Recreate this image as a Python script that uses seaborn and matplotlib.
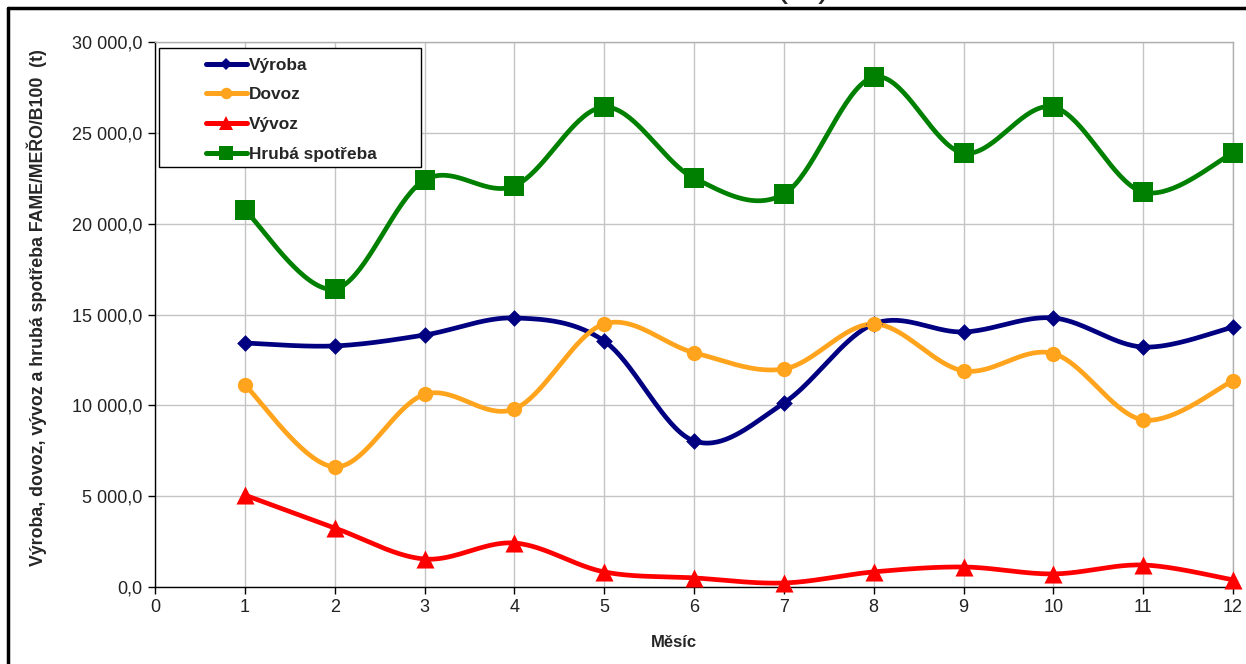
import numpy as np
import pandas as pd
import matplotlib
matplotlib.use("Agg")
import matplotlib.pyplot as plt
from matplotlib.lines import Line2D
from matplotlib.patches import Rectangle
from matplotlib.ticker import FuncFormatter, MultipleLocator
import seaborn as sns

# Monthly balance of FAME/MEŘO/B100 (t)
months = [1, 2, 3, 4, 5, 6, 7, 8, 9, 10, 11, 12]
vyroba = [13430, 13270, 13870, 14810, 13540, 8040, 10130, 14480, 14040, 14810, 13210, 14310]
dovoz = [11120, 6610, 10600, 9800, 14480, 12900, 12000, 14480, 11900, 12850, 9200, 11350]
vyvoz = [5060, 3250, 1540, 2420, 830, 500, 220, 830, 1100, 720, 1210, 390]
hruba_spotreba = [20750, 16400, 22400, 22080, 26420, 22510, 21630, 28070, 23890, 26420, 21740, 23890]

series_names = ["Výroba", "Dovoz", "Vývoz", "Hrubá spotřeba"]
series_values = [vyroba, dovoz, vyvoz, hruba_spotreba]
colors = ["#000080", "#FFA41C", "#FF0000", "#008000"]
markers = ["D", "o", "^", "s"]
marker_sizes = [8.5, 11, 13, 14]


def smooth(x, y, n=40):
    """Catmull-Rom style Bezier smoothing through every point."""
    x = np.asarray(x, float)
    y = np.asarray(y, float)
    px = np.concatenate([[x[0]], x, [x[-1]]])
    py = np.concatenate([[y[0]], y, [y[-1]]])
    xs, ys = [], []
    t = np.linspace(0, 1, n)
    for i in range(1, len(px) - 2):
        p0 = np.array([px[i], py[i]])
        p3 = np.array([px[i + 1], py[i + 1]])
        c1 = p0 + (np.array([px[i + 1], py[i + 1]]) - np.array([px[i - 1], py[i - 1]])) / 6
        c2 = p3 - (np.array([px[i + 2], py[i + 2]]) - np.array([px[i], py[i]])) / 6
        b = ((1 - t) ** 3)[:, None] * p0 + (3 * (1 - t) ** 2 * t)[:, None] * c1 \
            + (3 * (1 - t) * t ** 2)[:, None] * c2 + (t ** 3)[:, None] * p3
        xs.append(b[:, 0] if i == 1 else b[1:, 0])
        ys.append(b[:, 1] if i == 1 else b[1:, 1])
    return np.concatenate(xs), np.concatenate(ys)


sns.set_theme(style="white")
plt.rcParams["font.family"] = ["Liberation Sans", "DejaVu Sans"]

fig = plt.figure(figsize=(12.46, 6.64), dpi=100)
ax = fig.add_axes([0.1244, 0.1160, 0.8652, 0.8207])

for name, vals, col, mk, ms in zip(series_names, series_values, colors, markers, marker_sizes):
    sx, sy = smooth(months, vals)
    curve = pd.DataFrame({"x": sx, "y": sy})
    sns.lineplot(data=curve, x="x", y="y", ax=ax, color=col, linewidth=3.4,
                 sort=False, estimator=None, zorder=3)
    pts = pd.DataFrame({"x": months, "y": vals})
    sns.scatterplot(data=pts, x="x", y="y", ax=ax, color=col, marker=mk,
                    s=ms ** 2, edgecolor=col, linewidth=0, zorder=4, clip_on=False)

ax.set_xlim(0, 12)
ax.set_ylim(0, 30000)
ax.xaxis.set_major_locator(MultipleLocator(1))
ax.yaxis.set_major_locator(MultipleLocator(5000))


def cz_fmt(v, pos):
    return f"{v:,.1f}".replace(",", " ").replace(".", ",")


ax.yaxis.set_major_formatter(FuncFormatter(cz_fmt))
ax.grid(True, color="#c4c4c4", linewidth=1.0)
ax.set_axisbelow(True)
for side in ["top", "right"]:
    ax.spines[side].set_color("#b0b0b0")
    ax.spines[side].set_linewidth(1.0)
for side in ["left", "bottom"]:
    ax.spines[side].set_color("black")
    ax.spines[side].set_linewidth(1.0)
ax.tick_params(axis="both", which="major", direction="out", length=5, width=1,
               color="black", labelsize=13, labelcolor="#222222", pad=4,
               bottom=True, left=True)
ax.set_xlabel("Měsíc", fontsize=12, fontweight="bold")
ax.set_ylabel("Výroba, dovoz, vývoz a hrubá spotřeba FAME/MEŘO/B100  (t)",
              fontsize=12.8, fontweight="bold")
ax.xaxis.set_label_coords(0.4814, -0.101)
ax.xaxis.label.set_va("center")
ax.yaxis.set_label_coords(-0.1095, 0.513)
ax.yaxis.label.set_va("center")

# legend inside a plain rectangular box
handles = [Line2D([0], [0], color=c, linewidth=3.6, marker=m, markersize=ms * 0.75,
                  markeredgewidth=0)
           for c, m, ms in zip(colors, markers, marker_sizes)]
box = Rectangle((4 / 1078, 1 - 125 / 545), 262 / 1078, 119 / 545, transform=ax.transAxes,
                facecolor="white", edgecolor="black", linewidth=1.0, zorder=5)
ax.add_patch(box)
leg = ax.legend(handles, series_names, loc="upper left",
                bbox_to_anchor=(42 / 1078, 1 - 7 / 545), frameon=False,
                prop={"weight": "bold", "size": 12.4}, handlelength=2.4,
                handletextpad=0.1, labelspacing=0.85, borderpad=0.5, borderaxespad=0)
leg.set_zorder(6)

# outer frame
fig.add_artist(Line2D([8 / 1246, 1.0], [1 - 8 / 664, 1 - 8 / 664], color="black",
                      linewidth=2.5, transform=fig.transFigure))
fig.add_artist(Line2D([8 / 1246, 8 / 1246], [0.0, 1 - 8 / 664], color="black",
                      linewidth=2.5, transform=fig.transFigure))
fig.text(803 / 1246, 1 + 4 / 664, "( t )", ha="center", va="baseline", fontsize=26,
         color="#222222")

fig.savefig("out.png", dpi=100)
